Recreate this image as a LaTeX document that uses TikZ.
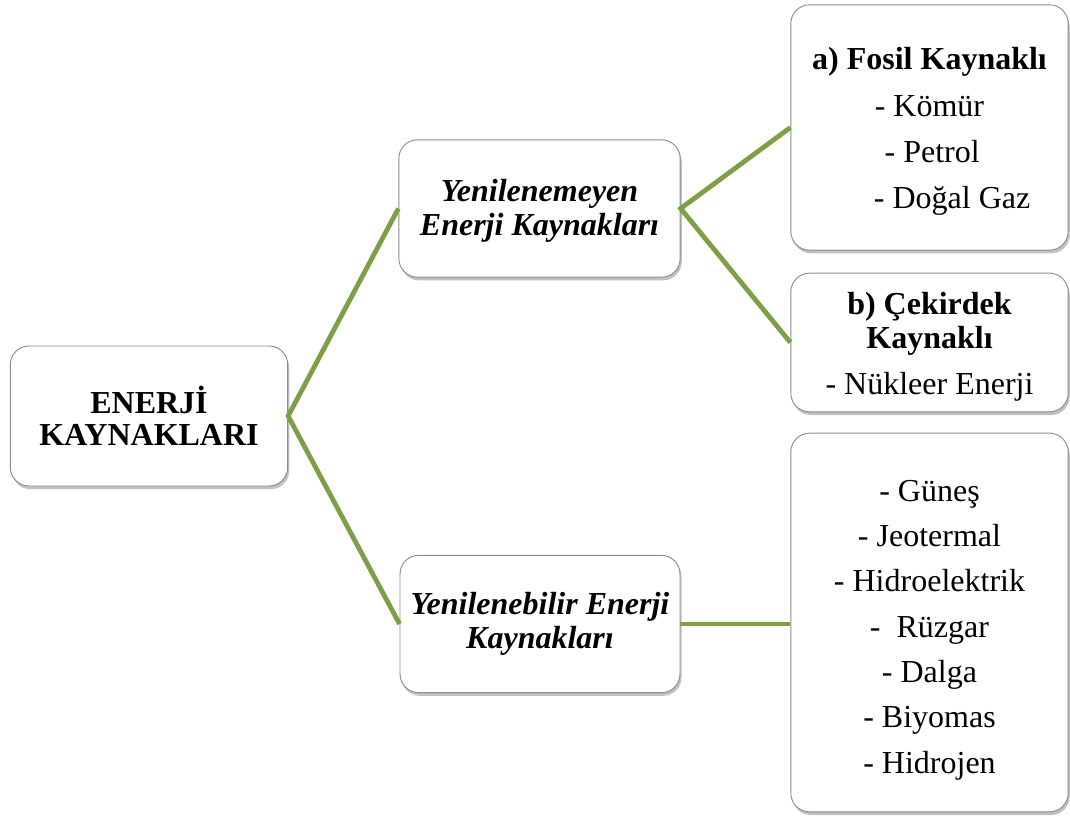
\documentclass[tikz,border=0pt]{standalone}
\usepackage{fontspec}
\setmainfont{Liberation Serif}
\usetikzlibrary{positioning}
\usetikzlibrary{shadows}
\definecolor{branchgreen}{RGB}{125,160,70}

\begin{document}
\begin{tikzpicture}[x=0.75pt,y=-0.75pt,-,line width=3.6pt]
		\tikzset{box/.style = {shape=rectangle,rounded corners=14pt, draw=black!45, line width=0.7pt, fill=white, align=center, inner sep=0pt,
				drop shadow={shadow xshift=1.2pt, shadow yshift=-2.4pt, opacity=0.35, fill=black!70}}}
		\tikzset{branch/.style = {draw=branchgreen, line width=3.6pt}}
		\useasboundingbox (0,0) rectangle (1070,816);
		
		\node[box, minimum width=208pt, minimum height=105pt, font=\bfseries\fontsize{24}{24}\selectfont] (ENERJI) at (149,416)
		{ENERJİ\\KAYNAKLARI};
		
		\node[box, minimum width=211pt, minimum height=103pt, font=\bfseries\itshape\fontsize{24}{26}\selectfont] (NONRENEW) at (539.5,208.5)
		{\rule{0pt}{20pt}Yenilenemeyen\\Enerji Kaynakları};
		\node[box, minimum width=210pt, minimum height=103pt, font=\bfseries\itshape\fontsize{24}{26}\selectfont] (RENEW) at (540,624)
		{Yenilenebilir Enerji\\Kaynakları};
		
		\node[box, minimum width=208pt, minimum height=184pt, font=\fontsize{24}{34.5}\selectfont] (FOSIL) at (929.5,127.5)
		{\rule{0pt}{22pt}\textbf{a) Fosil Kaynaklı}\\[1pt]
			- Kömür\\
			\hspace*{4pt}- Petrol\\
			\hspace*{34pt}- Doğal Gaz};
		\node[box, minimum width=208pt, minimum height=104pt, font=\fontsize{24}{34}\selectfont] (NUKLEER) at (929.5,342.5)
		{\rule{0pt}{23pt}\textbf{b) Çekirdek}\\[-8.5pt]
			\textbf{Kaynaklı}\\
			- Nükleer Enerji};
		\node[box, minimum width=208pt, minimum height=284pt, font=\fontsize{24}{34}\selectfont] (LIST) at (929.5,622.5)
		{\rule{0pt}{27pt}- Güneş\\
			- Jeotermal\\
			- Hidroelektrik\\
			-\ \ Rüzgar\\
			- Dalga\\
			- Biyomas\\
			- Hidrojen};
		
		\draw[branch] (NONRENEW.west) -- (ENERJI.east) -- (RENEW.west);
		\draw[branch] (FOSIL.west) -- (NONRENEW.east) -- (NUKLEER.west);
		\draw[branch] (RENEW.east) -- (RENEW.east -| LIST.west);
		
\end{tikzpicture}
\end{document}
